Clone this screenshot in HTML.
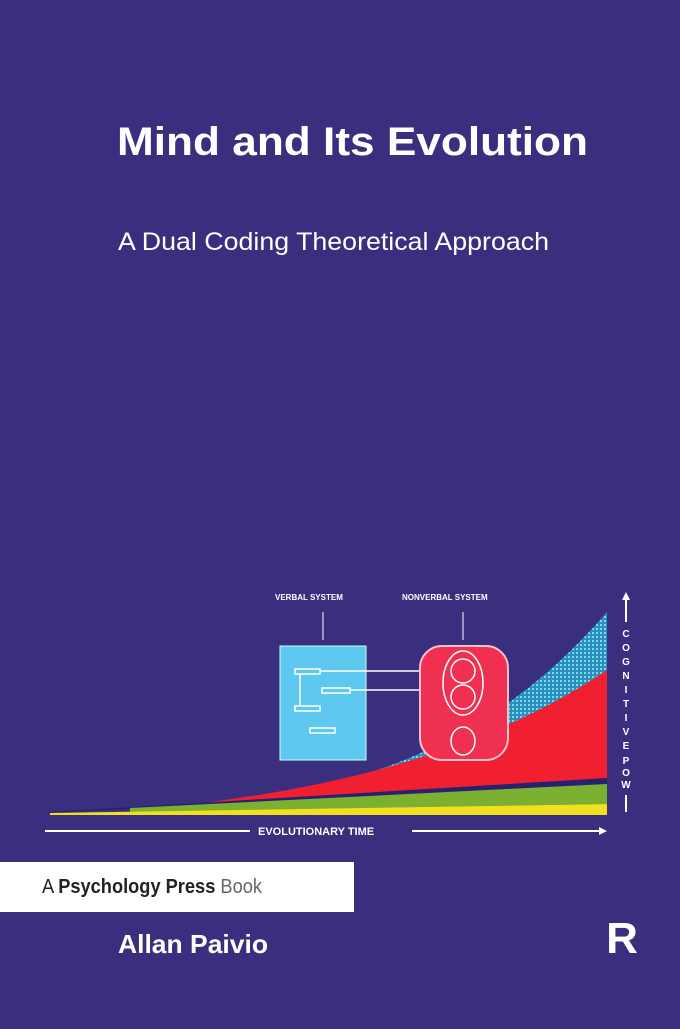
<!DOCTYPE html>
<html><head><style>
body{margin:0;width:680px;height:1024px;background:#3a2f7f;overflow:hidden;font-family:"Liberation Sans",sans-serif}
</style></head><body>
<svg width="680" height="1024" xmlns="http://www.w3.org/2000/svg">
<defs>
<pattern id="h" width="4" height="4" patternUnits="userSpaceOnUse"><rect width="4" height="4" fill="#2a90c0"/><rect width="2" height="2" fill="#7fd8ee"/></pattern>
</defs>
<rect width="680" height="1024" fill="#3a2f7f"/>
<text x="117" y="155" fill="#fff" font-size="40" font-weight="bold" textLength="471" lengthAdjust="spacingAndGlyphs">Mind and Its Evolution</text>
<text x="118" y="250" fill="#fff" font-size="25" textLength="431" lengthAdjust="spacingAndGlyphs">A Dual Coding Theoretical Approach</text>
<path d="M290,792 Q480,760 607,612 L607,680 Q450,760 290,800Z" fill="url(#h)"/>
<path d="M210,802 Q460,770 607,670 L607,778 L210,805Z" fill="#f02030"/>
<path d="M50,812 L607,778 L607,784 L50,813Z" fill="#2a2070"/>
<path d="M130,808 L607,784 L607,804 L130,812Z" fill="#7cb030"/>
<path d="M50,813 L607,804 L607,815 L50,815Z" fill="#f0e020"/>
<rect x="280" y="646" width="86" height="114" fill="#5ec8f0" stroke="#cfe" stroke-width="1"/>
<g stroke="#fff" fill="none" stroke-width="1.5">
<rect x="295" y="669" width="25" height="5"/><rect x="322" y="688" width="28" height="5"/><rect x="295" y="706" width="25" height="5"/><rect x="310" y="728" width="25" height="5"/>
<line x1="300" y1="674" x2="300" y2="706"/><line x1="320" y1="671" x2="430" y2="671"/><line x1="350" y1="690" x2="430" y2="690"/>
</g>
<rect x="420" y="646" width="88" height="114" rx="22" fill="#f03050" stroke="#f8c0c8" stroke-width="2"/>
<g stroke="#fff" fill="none" stroke-width="1.5">
<ellipse cx="463" cy="683" rx="20" ry="32"/><circle cx="463" cy="671" r="12"/><circle cx="463" cy="697" r="12"/><ellipse cx="463" cy="741" rx="12" ry="14"/>
</g>
<g fill="#fff" font-size="8" font-weight="bold">
<text x="275" y="600">VERBAL SYSTEM</text><text x="402" y="600">NONVERBAL SYSTEM</text>
<text x="258" y="835" font-size="11">EVOLUTIONARY TIME</text>
</g>
<g stroke="#fff" stroke-width="2" fill="#fff">
<line x1="323" y1="612" x2="323" y2="640" stroke-width="1"/><line x1="463" y1="612" x2="463" y2="640" stroke-width="1"/>
<line x1="45" y1="831" x2="250" y2="831"/><line x1="412" y1="831" x2="600" y2="831"/><path d="M607,831 l-8,-4 v8z" stroke="none"/>
<line x1="626" y1="600" x2="626" y2="622"/><line x1="626" y1="795" x2="626" y2="812"/><path d="M626,592 l-4,8 h8z" stroke="none"/>
</g>
<g fill="#fff" font-size="10" font-weight="bold" text-anchor="middle">
<text x="626" y="637">C</text><text x="626" y="651">O</text><text x="626" y="665">G</text><text x="626" y="679">N</text><text x="626" y="693">I</text><text x="626" y="707">T</text><text x="626" y="721">I</text><text x="626" y="735">V</text><text x="626" y="749">E</text><text x="626" y="764">P</text><text x="626" y="776">O</text><text x="626" y="788">W</text><text x="626" y="800" font-size="0">E</text>
</g>
<rect x="0" y="862" width="354" height="50" fill="#fff"/>
<text x="42" y="893" font-size="20" fill="#222" textLength="220" lengthAdjust="spacingAndGlyphs">A <tspan font-weight="bold">Psychology Press</tspan> <tspan fill="#666">Book</tspan></text>
<text x="118" y="953" fill="#fff" font-size="26" font-weight="bold" textLength="150" lengthAdjust="spacingAndGlyphs">Allan Paivio</text>
<text x="622" y="953" fill="#fff" font-size="44" font-weight="bold" text-anchor="middle">R</text>
</svg>
</body></html>
